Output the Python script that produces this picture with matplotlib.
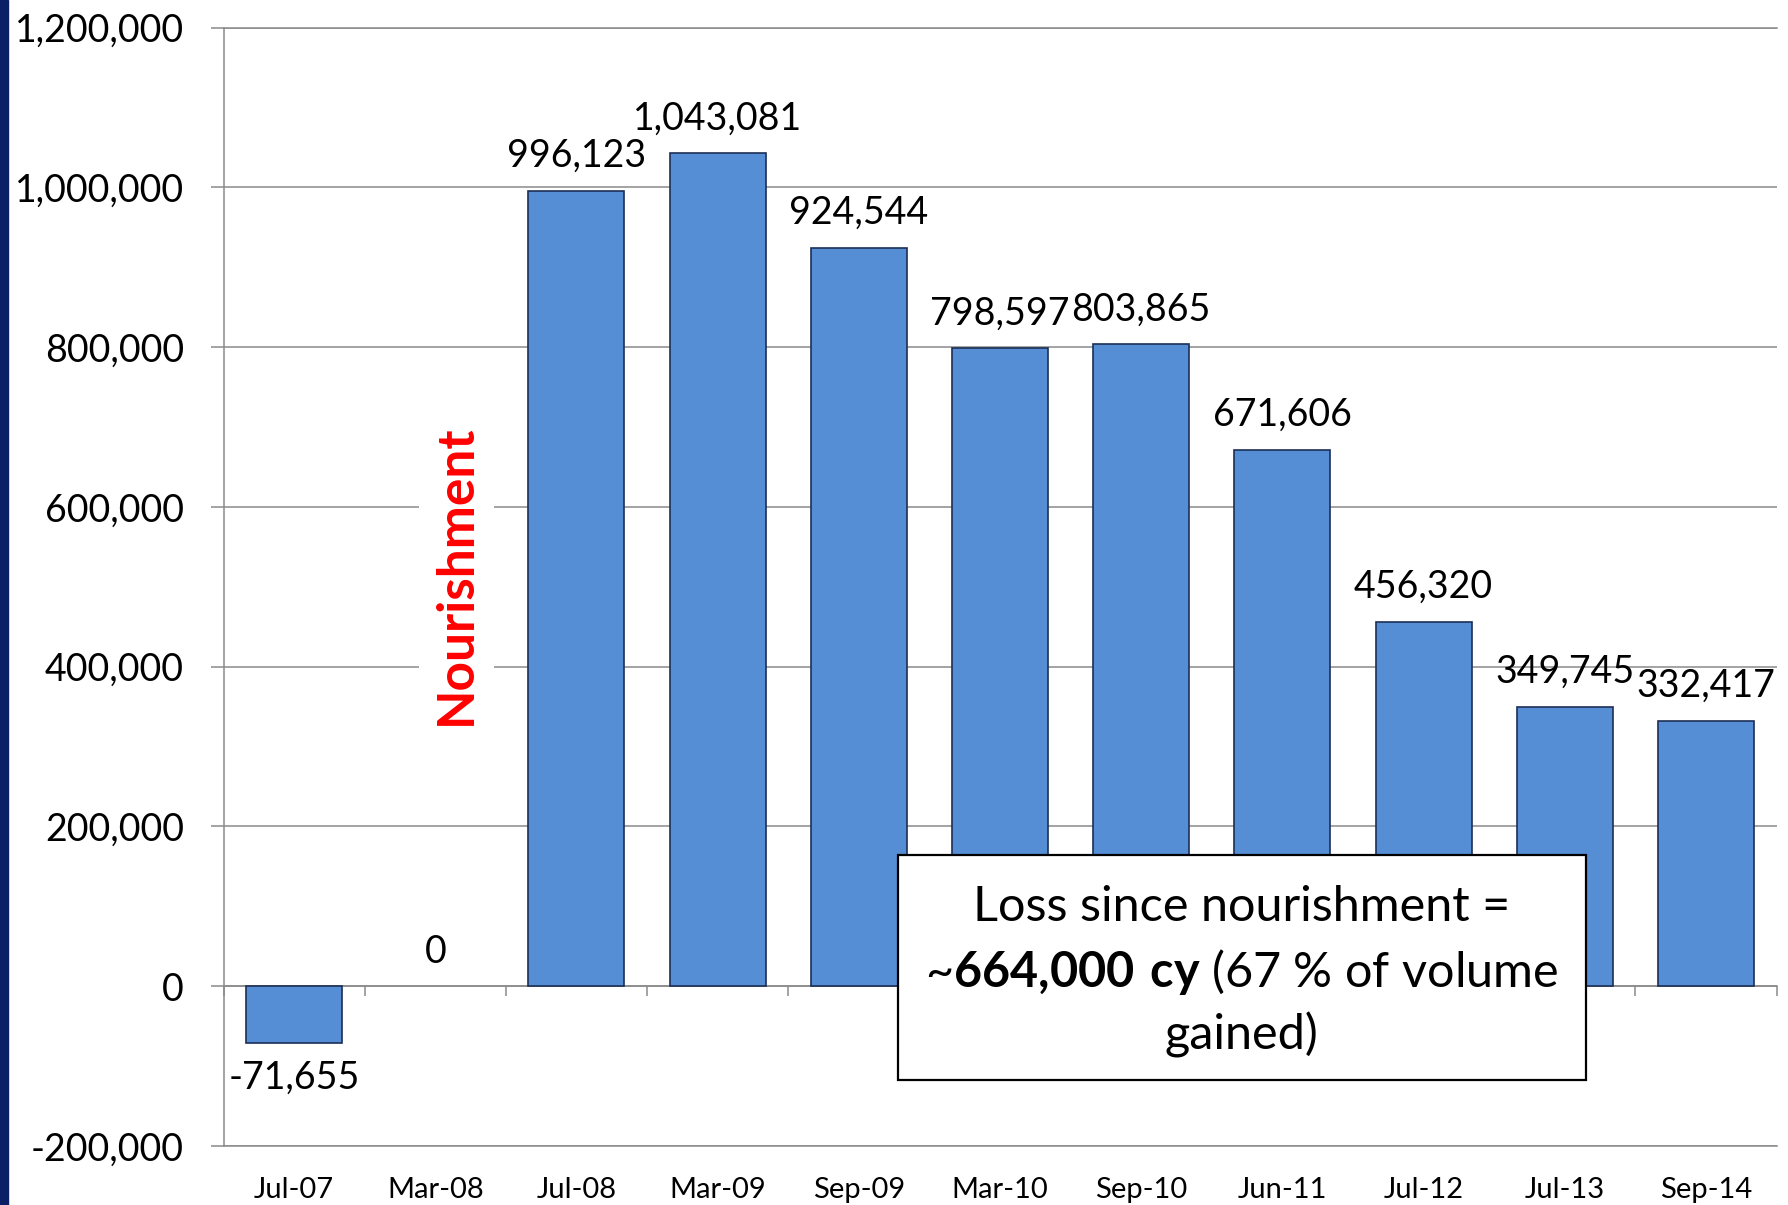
import numpy as np
import matplotlib
matplotlib.use('Agg')
from matplotlib import pyplot as plt
from matplotlib.patches import Rectangle

plt.rcParams['font.family'] = 'Lato'
plt.rcParams['mathtext.fontset'] = 'custom'
plt.rcParams['mathtext.rm'] = 'Lato'
plt.rcParams['mathtext.bf'] = 'Lato:bold'

# survey dates and net volume change (cy)
dates = ['Jul-07', 'Mar-08', 'Jul-08', 'Mar-09', 'Sep-09', 'Mar-10',
         'Sep-10', 'Jun-11', 'Jul-12', 'Jul-13', 'Sep-14']
volumes = [-71655, 0, 996123, 1043081, 924544, 798597,
           803865, 671606, 456320, 349745, 332417]
y_ticks = [-200000, 0, 200000, 400000, 600000, 800000, 1000000, 1200000]

grid_col = '#8a8a8a'

fig = plt.figure(figsize=(17.88, 12.05), dpi=100)
ax = fig.add_axes([0.125, 0.049, 0.8686, 0.928])

# dark blue slide edge on the left
fig.patches.append(Rectangle((0, 0), 8 / 1788, 1, transform=fig.transFigure,
                             color='#0b1f66', zorder=0))

x = np.arange(len(dates))
bars = ax.bar(x, volumes, width=0.68, color='#558ed5', edgecolor='#1c2f55',
              linewidth=1.2, zorder=3)
for b, v in zip(bars, volumes):
    if v == 0:
        b.set_linewidth(0)
ax.bar_label(bars, labels=[f'{v:,}' for v in volumes], padding=12, fontsize=27)

ax.set_xlim(-0.5, len(dates) - 0.5)
ax.set_ylim(y_ticks[0], y_ticks[-1])
ax.set_yticks(y_ticks)
ax.set_yticklabels([f'{t:,}' for t in y_ticks])
ax.yaxis.grid(True, color=grid_col, linewidth=1.1, zorder=0)
ax.tick_params(axis='y', length=9.5, width=1.1, color=grid_col, pad=19,
               labelsize=27)

# category axis crosses at zero, labels stay at the bottom
ax.spines['bottom'].set_position(('data', 0))
ax.spines['bottom'].set_color(grid_col)
ax.spines['bottom'].set_linewidth(1.1)
ax.set_xticks(np.arange(len(dates) + 1) - 0.5)
ax.set_xticklabels([])
ax.tick_params(axis='x', length=7, width=1.1, color=grid_col)
for s in ['left', 'top']:
    ax.spines[s].set_color(grid_col)
    ax.spines[s].set_linewidth(1.1)
ax.spines['right'].set_visible(False)

sec = ax.secondary_xaxis(0.0)
sec.set_xticks(x)
sec.set_xticklabels(dates)
sec.tick_params(length=0, pad=22, labelsize=21)
sec.spines['bottom'].set_color(grid_col)
sec.spines['bottom'].set_linewidth(1.1)

ax.text(1.15, 515000, 'Nourishment', rotation=90, color='#ff0000',
        fontsize=37, fontweight='bold', ha='center', va='center', zorder=4,
        bbox=dict(facecolor='white', edgecolor='none', pad=10))

ax.add_patch(Rectangle((0.434, 0.059), 0.443, 0.201, transform=ax.transAxes,
                       facecolor='white', edgecolor='black', linewidth=1.6,
                       zorder=5))
box_x = 0.6555
ax.text(box_x, 0.214, 'Loss since nourishment =', transform=ax.transAxes,
        fontsize=35, ha='center', va='center', zorder=6)
ax.text(box_x, 0.156, r'~$\mathbf{664{,}000\ cy}$ (67 % of volume',
        transform=ax.transAxes, fontsize=35, ha='center', va='center', zorder=6)
ax.text(box_x, 0.099, 'gained)', transform=ax.transAxes,
        fontsize=35, ha='center', va='center', zorder=6)

plt.savefig('out.png', dpi=100)
